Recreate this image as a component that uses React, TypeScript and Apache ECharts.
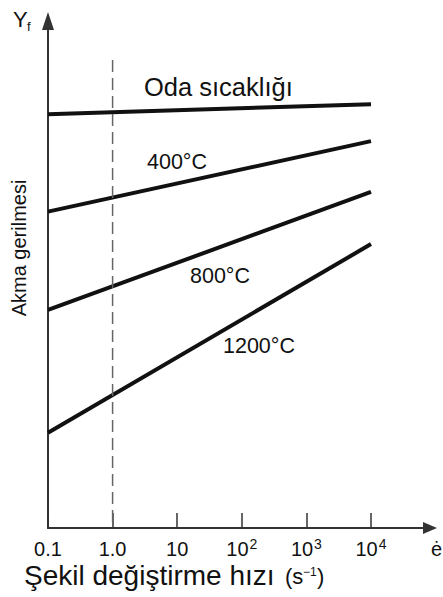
import React, { useEffect, useRef } from "react";
import * as echarts from "echarts";

// strain rate (s^-1), log scale
const xTicks = [0.1, 1, 10, 100, 1000, 10000];
const xTickBase = ["0.1", "1.0", "10", "10", "10", "10"];
const xTickExp = ["", "", "", "2", "3", "4"];
const lineX = [0.1, 10000];

// flow stress (arbitrary units 0..100)
const roomTemp = [81.6, 83.6];
const t400 = [62.4, 76.3];
const t800 = [43.0, 66.3];
const t1200 = [18.8, 56.0];
const dashedRef = { x: 1, y: [92.3, 0] };

const seriesNames = ["Oda sıcaklığı", "400°C", "800°C", "1200°C"];

export default function App() {
  const ref = useRef<HTMLDivElement>(null);
  useEffect(() => {
    if (!ref.current) return;
    const chart = echarts.init(ref.current, null, { renderer: "svg" });
    const font = "Liberation Sans, Arial, sans-serif";
    const mk = (name: string, ys: number[]) => ({
      name,
      type: "line",
      data: lineX.map((x, i) => [x, ys[i]]),
      symbol: "none",
      lineStyle: { color: "#111", width: 4 },
      silent: true,
    });
    chart.setOption({
      animation: false,
      textStyle: { fontFamily: font },
      grid: { left: 48, right: 13, top: 21, bottom: 69 },
      xAxis: {
        type: "log",
        min: 0.1,
        max: 81900,
        axisLine: {
          show: true,
          lineStyle: { color: "#333", width: 2 },
          symbol: ["none", "triangle"],
          symbolSize: [12, 14],
        },
        axisTick: {
          show: true,
          inside: true,
          length: 15,
          lineStyle: { color: "#333", width: 1.5 },
          customValues: xTicks,
        },
        axisLabel: {
          show: true,
          margin: 9,
          color: "#111",
          fontFamily: font,
          customValues: xTicks,
          formatter: (v: number) => {
            const i = xTicks.findIndex((t) => Math.abs(Math.log10(t) - Math.log10(v)) < 1e-6);
            if (i < 0) return "";
            return xTickExp[i] ? `{n|${xTickBase[i]}}{s|${xTickExp[i]}}` : `{n|${xTickBase[i]}}`;
          },
          rich: {
            n: { fontSize: 20, color: "#111", fontFamily: font, lineHeight: 24 },
            s: { fontSize: 14, color: "#111", fontFamily: font, verticalAlign: "top", lineHeight: 24, padding: [0, 0, 9, 1] },
          },
        },
        splitLine: { show: false },
        minorTick: { show: false },
      },
      yAxis: {
        type: "value",
        min: 0,
        max: 100,
        axisLine: {
          show: true,
          lineStyle: { color: "#333", width: 2 },
          symbol: ["none", "triangle"],
          symbolSize: [12, 18],
        },
        axisTick: { show: false },
        axisLabel: { show: false },
        splitLine: { show: false },
      },
      series: [
        mk(seriesNames[0], roomTemp),
        mk(seriesNames[1], t400),
        mk(seriesNames[2], t800),
        mk(seriesNames[3], t1200),
        {
          type: "line",
          data: dashedRef.y.map((y) => [dashedRef.x, y]),
          symbol: "none",
          lineStyle: { color: "#666", width: 1.5, type: [12, 6] },
          silent: true,
        },
      ],
      graphic: [
        { type: "text", left: 144, top: 74, style: { text: seriesNames[0], fontSize: 25.5, fill: "#111", fontFamily: font } },
        { type: "text", left: 147, top: 151, style: { text: seriesNames[1], fontSize: 21.5, fill: "#111", fontFamily: font } },
        { type: "text", left: 190, top: 265, style: { text: seriesNames[2], fontSize: 21.5, fill: "#111", fontFamily: font } },
        { type: "text", left: 223, top: 335, style: { text: seriesNames[3], fontSize: 21.5, fill: "#111", fontFamily: font } },
        { type: "text", left: 13, top: 8, style: { text: "Y", fontSize: 22, fill: "#111", fontFamily: font } },
        { type: "text", left: 27, top: 20, style: { text: "f", fontSize: 13, fill: "#111", fontFamily: font } },
        { type: "text", left: 431, top: 539, style: { text: "ė", fontSize: 20, fill: "#111", fontFamily: font } },
        {
          type: "text",
          x: 19,
          y: 248,
          rotation: Math.PI / 2,
          style: { text: "Akma gerilmesi", fontSize: 20, fill: "#111", fontFamily: font, align: "center", verticalAlign: "middle" },
        },
        { type: "text", left: 24, top: 561, style: { text: "Şekil değiştirme hızı", fontSize: 28, fill: "#111", fontFamily: font } },
        { type: "text", x: 285, y: 565, style: { text: "(s", fontSize: 22, fill: "#111", fontFamily: font } },
        { type: "text", x: 303, y: 566, style: { text: "−1", fontSize: 12, fill: "#111", fontFamily: font } },
        { type: "text", x: 317, y: 565, style: { text: ")", fontSize: 22, fill: "#111", fontFamily: font } },
      ],
    });
    return () => chart.dispose();
  }, []);
  return <div ref={ref} style={{ position: "absolute", left: 0, top: 0, width: 443, height: 597, background: "#fff" }} />;
}
